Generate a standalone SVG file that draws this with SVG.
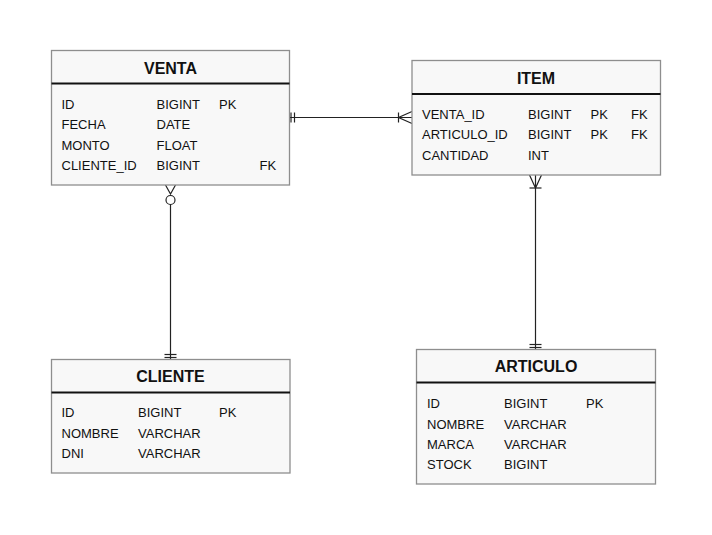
<svg xmlns="http://www.w3.org/2000/svg" width="712" height="535" viewBox="0 0 712 535">
<style>
.box{fill:#f8f8f8;stroke:#8e8e8e;stroke-width:1.3}
.hdr{stroke:#111;stroke-width:2}
.title{font-family:"Liberation Sans",Arial,sans-serif;font-size:16px;font-weight:bold;fill:#111;text-anchor:middle}
.t{font-family:"Liberation Sans",Arial,sans-serif;font-size:13px;fill:#111}
.c{stroke:#222;stroke-width:1.2;fill:none}
</style>
<rect width="712" height="535" fill="#ffffff"/>
<g id="connectors">
  <!-- VENTA - ITEM -->
  <line class="c" x1="289" y1="117.5" x2="412" y2="117.5"/>
  <line class="c" x1="291" y1="112.5" x2="291" y2="122.5"/>
  <line class="c" x1="294.5" y1="112.5" x2="294.5" y2="122.5"/>
  <line class="c" x1="398.5" y1="112.5" x2="398.5" y2="122.5"/>
  <path class="c" d="M412 111.5 L398.5 117.5 L412 123.5"/>
  <!-- VENTA - CLIENTE -->
  <line class="c" x1="170.5" y1="204.5" x2="170.5" y2="359"/>
  <path class="c" d="M165.5 185 L170.5 194 L175.5 185"/>
  <circle class="c" cx="170.5" cy="200" r="4.5"/>
  <line class="c" x1="164.5" y1="354.5" x2="176.5" y2="354.5"/>
  <line class="c" x1="164.5" y1="357.5" x2="176.5" y2="357.5"/>
  <!-- ITEM - ARTICULO -->
  <line class="c" x1="535.5" y1="175" x2="535.5" y2="349"/>
  <path class="c" d="M529.5 175 L535.5 188 L541.5 175"/>
  <line class="c" x1="529.5" y1="188" x2="541.5" y2="188"/>
  <line class="c" x1="529.5" y1="344.5" x2="541.5" y2="344.5"/>
  <line class="c" x1="529.5" y1="347.5" x2="541.5" y2="347.5"/>
</g>
<g id="venta">
  <rect class="box" x="51.5" y="50.5" width="238" height="134.5"/>
  <line class="hdr" x1="51.5" y1="83.5" x2="289.5" y2="83.5"/>
  <text class="title" x="170.5" y="73.5">VENTA</text>
  <text class="t" x="61.5" y="108.5">ID</text><text class="t" x="156.5" y="108.5">BIGINT</text><text class="t" x="219" y="108.5">PK</text>
  <text class="t" x="61.5" y="129">FECHA</text><text class="t" x="156.5" y="129">DATE</text>
  <text class="t" x="61.5" y="149.5">MONTO</text><text class="t" x="156.5" y="149.5">FLOAT</text>
  <text class="t" x="61.5" y="170">CLIENTE_ID</text><text class="t" x="156.5" y="170">BIGINT</text><text class="t" x="259.5" y="170">FK</text>
</g>
<g id="item">
  <rect class="box" x="412" y="60.5" width="248.5" height="114.5"/>
  <line class="hdr" x1="412" y1="94" x2="660.5" y2="94"/>
  <text class="title" x="536" y="84">ITEM</text>
  <text class="t" x="422" y="118.5">VENTA_ID</text><text class="t" x="528" y="118.5">BIGINT</text><text class="t" x="590.5" y="118.5">PK</text><text class="t" x="631" y="118.5">FK</text>
  <text class="t" x="422" y="139">ARTICULO_ID</text><text class="t" x="528" y="139">BIGINT</text><text class="t" x="590.5" y="139">PK</text><text class="t" x="631" y="139">FK</text>
  <text class="t" x="422" y="160">CANTIDAD</text><text class="t" x="528" y="160">INT</text>
</g>
<g id="cliente">
  <rect class="box" x="51.5" y="359.5" width="238.5" height="113.5"/>
  <line class="hdr" x1="51.5" y1="392.5" x2="290" y2="392.5"/>
  <text class="title" x="170.5" y="382">CLIENTE</text>
  <text class="t" x="61.5" y="417">ID</text><text class="t" x="138" y="417">BIGINT</text><text class="t" x="219" y="417">PK</text>
  <text class="t" x="61.5" y="437.5">NOMBRE</text><text class="t" x="138" y="437.5">VARCHAR</text>
  <text class="t" x="61.5" y="457.5">DNI</text><text class="t" x="138" y="457.5">VARCHAR</text>
</g>
<g id="articulo">
  <rect class="box" x="416.5" y="349.5" width="239" height="134.5"/>
  <line class="hdr" x1="416.5" y1="382.5" x2="655.5" y2="382.5"/>
  <text class="title" x="536" y="372">ARTICULO</text>
  <text class="t" x="427" y="408">ID</text><text class="t" x="504" y="408">BIGINT</text><text class="t" x="586" y="408">PK</text>
  <text class="t" x="427" y="428.5">NOMBRE</text><text class="t" x="504" y="428.5">VARCHAR</text>
  <text class="t" x="427" y="448.5">MARCA</text><text class="t" x="504" y="448.5">VARCHAR</text>
  <text class="t" x="427" y="468.5">STOCK</text><text class="t" x="504" y="468.5">BIGINT</text>
</g>
</svg>
